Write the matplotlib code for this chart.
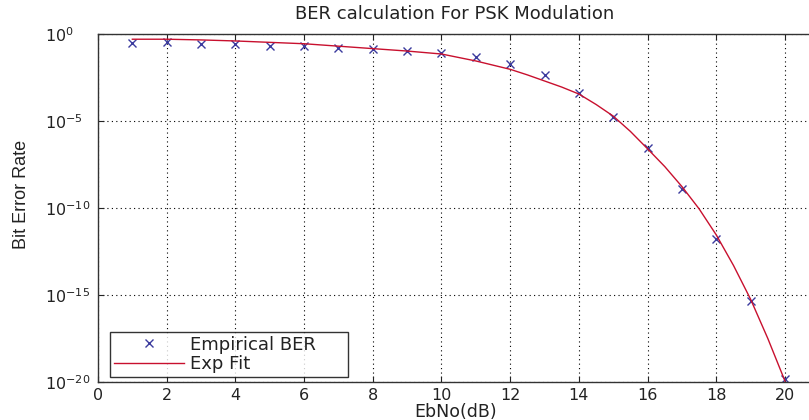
import numpy as np
import matplotlib
matplotlib.use("Agg")
import matplotlib.pyplot as plt

# empirical BER points (EbNo in dB, log10 of BER)
ebno = [1, 2, 3, 4, 5, 6, 7, 8, 9, 10, 11, 12, 13, 14, 15, 16, 17, 18, 19, 20]
ber_log = [-0.50, -0.48, -0.56, -0.59, -0.67, -0.69, -0.79, -0.86, -0.96, -1.07,
           -1.34, -1.72, -2.37, -3.41, -4.79, -6.57, -8.93, -11.80, -15.34, -19.85]

# exponential fit curve
fit_x = [1, 2, 3, 4, 5, 6, 7, 8, 9, 10, 11, 12, 12.5, 13, 13.5, 14, 14.5, 15,
         15.5, 16, 16.5, 17, 17.5, 18, 18.5, 19, 19.5, 20]
fit_log = [-0.30, -0.30, -0.34, -0.40, -0.48, -0.56, -0.70, -0.84, -0.98, -1.15,
           -1.55, -2.03, -2.35, -2.70, -3.05, -3.45, -4.05, -4.72, -5.60, -6.60,
           -7.62, -8.77, -10.05, -11.55, -13.30, -15.25, -17.50, -19.95]

plt.rcParams['font.family'] = ['DejaVu Sans']

W, H = 809, 420
fig = plt.figure(figsize=(W / 100, H / 100), dpi=100)
x0, x1 = 98, 98 + 21 * 34.35
y0, y1 = 34, 382
aw, ah = x1 - x0, y1 - y0
ax = fig.add_axes([x0 / W, 1 - y1 / H, aw / W, ah / H])

ax.semilogy(ebno, 10.0 ** np.array(ber_log), 'x', color='#3b3b9e', ms=5.5, mew=1.0,
            label='Empirical BER')
ax.semilogy(fit_x, 10.0 ** np.array(fit_log), '-', color='#c8102e', lw=1.0,
            label='Exp Fit')

ax.set_xlim(0, 21)
ax.set_ylim(1e-20, 1)
ax.set_xticks(range(0, 21, 2))
ax.set_yticks([1e-20, 1e-15, 1e-10, 1e-5, 1])
ax.yaxis.set_minor_locator(matplotlib.ticker.NullLocator())
ax.tick_params(direction='in', top=True, right=False, length=4, width=0.8,
               colors='#222222')
ax.tick_params(axis='x', labelsize=11.5, pad=4)
# MATLAB puts the "10" of each log label at the same x, exponent sticks out right
ax.tick_params(axis='y', labelsize=11.5, pad=38)
for lab in ax.get_yticklabels():
    lab.set_horizontalalignment('left')
ax.grid(True, which='major', color='black', linestyle=(0, (1, 3)), lw=0.8)
for s in ax.spines.values():
    s.set_linewidth(1.0)
    s.set_color('#333333')

fig.text(455 / W, 1 - 14 / H, 'BER calculation For PSK Modulation',
         ha='center', va='center', fontsize=13, color='#222222')
fig.text(456 / W, 1 - 412 / H, 'EbNo(dB)', ha='center', va='center', fontsize=12.5,
         color='#222222')
fig.text(22 / W, 1 - 194 / H, 'Bit Error Rate', ha='center', va='center',
         rotation=90, fontsize=13, family=['Liberation Sans'], color='#222222')

leg = ax.legend(loc='lower left', mode='expand',
                bbox_to_anchor=(12 / aw, 5 / ah, 238 / aw, 44 / ah),
                fontsize=13, frameon=True, fancybox=False, borderpad=0.2,
                handlelength=3.9, handletextpad=0.35, labelspacing=0.1,
                borderaxespad=0)
leg.get_frame().set_edgecolor('black')
leg.get_frame().set_linewidth(1.0)
for t in leg.get_texts():
    t.set_color('#222222')

fig.savefig('out.png', dpi=100)
